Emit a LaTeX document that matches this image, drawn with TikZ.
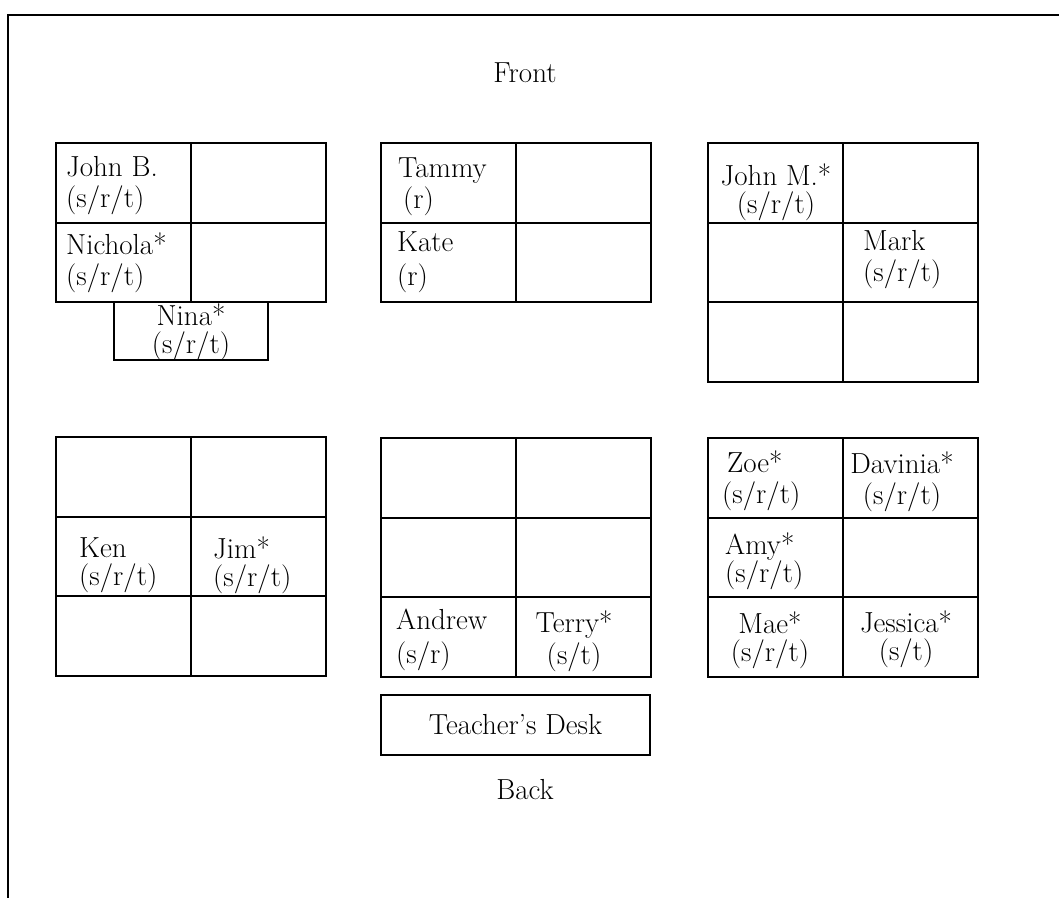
\documentclass[tikz,border=0pt]{standalone}
\usepackage{tikz}
\usepackage{xcolor}

\tikzset{
  desk/.style={line width=2pt},
  pupil/.style={font=\fontsize{29}{31}\selectfont,inner sep=0pt},
  tight/.style={font=\fontsize{29}{28}\selectfont,inner sep=0pt}
}

\begin{document}
\begin{tikzpicture}[x=1pt,y=-1pt]
\useasboundingbox (0,0) rectangle (1059,898);
\fill[white] (0,0) rectangle (1059,898);
% room outline, open on the right and at the bottom
\draw[line width=2.4pt] (1059,15) -- (8,15) -- (8,898);
% table groups: corner x / corner y / rows
\foreach \gx/\gy/\rows in {56/143/2, 381/143/2, 708/143/3, 56/437/3, 381/438/3, 708/438/3}
  \foreach \c in {0,1}
    \foreach \r in {1,...,\rows}
      \draw[desk] ({\gx+\c*135},{\gy+(\r-1)*79.5}) rectangle ++(135,79.5);
\draw[desk] (114,302) rectangle (268,360);
\node[draw,desk,pupil,minimum width=269pt,minimum height=60pt] (teacher) at (515.5,724.5) {Teacher's Desk};
\node[pupil] (front) at (525,73) {Front};
\node[pupil] (back) at (525,790) {Back};
% top row of groups
\node[pupil,align=left,anchor=west] (johnb) at (66,186) {John B.\\(s/r/t)};
\node[pupil,align=left,anchor=west] (nichola) at (66,263) {Nichola*\\(s/r/t)};
\node[tight,align=center] (nina) at (191,332) {Nina*\\(s/r/t)};
\node[pupil,align=left,anchor=west] (tammy) at (398,187) {Tammy\\\,(r)};
\node[pupil,align=left,anchor=west] (kate) at (397,262) {Kate\\[3pt](r)};
\node[tight,align=center] (johnm) at (776,192) {John M.*\\(s/r/t)};
\node[pupil,align=left,anchor=west] (mark) at (863,260) {Mark\\(s/r/t)};
% bottom row of groups
\node[tight,align=left,anchor=west] (ken) at (79,565) {Ken\\(s/r/t)};
\node[tight,align=left,anchor=west] (jim) at (213,565) {Jim*\\(s/r/t)};
\node[pupil,align=left,anchor=west] (andrew) at (396,640) {Andrew\\[3pt](s/r)};
\node[pupil,align=center] (terry) at (574,641) {Terry*\\[1pt](s/t)};
\node[pupil,align=left,anchor=west] (zoe) at (722,481) {\,Zoe*\\(s/r/t)};
\node[pupil,align=center] (davinia) at (902,482) {Davinia*\\(s/r/t)};
\node[tight,align=left,anchor=west] (amy) at (725,561) {Amy*\\(s/r/t)};
\node[tight,align=center] (mae) at (770,640) {Mae*\\(s/r/t)};
\node[tight,align=center] (jessica) at (906,639) {Jessica*\\(s/t)};
\end{tikzpicture}
\end{document}
